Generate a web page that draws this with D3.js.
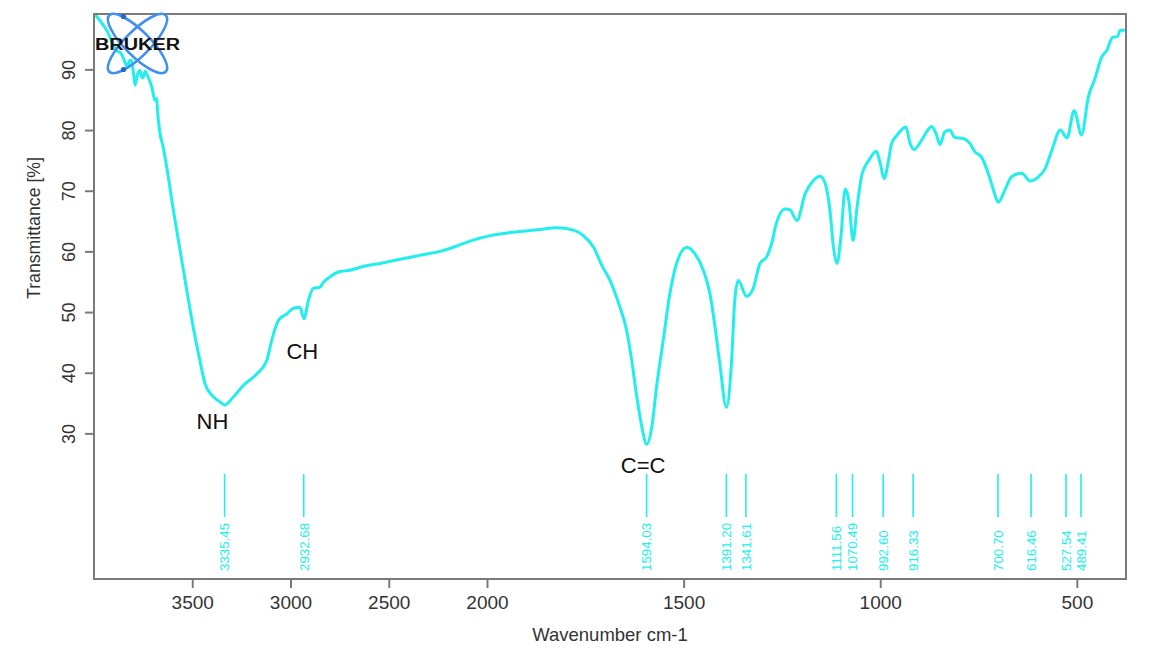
<!DOCTYPE html>
<html><head><meta charset="utf-8">
<script src="https://cdn.jsdelivr.net/npm/d3@7"></script>
<style>
html,body{margin:0;padding:0;background:#fff;}
svg{display:block;font-family:"Liberation Sans",Arial,sans-serif;}
</style></head>
<body><svg id="chart" width="1149" height="653"></svg>
<script>
// ---- data ----
const wavenumbers = [3995,3935,3884,3862,3852,3840,3830,3820,3810,3800,3791,3780,3766,3755,3748,3740,3732,3720,3706,3690,3682,3675,3664,3650,3630,3596,3562,3528,3495,3461,3435,3401,3367,3335,3291,3240,3172,3121,3096,3062,3019,2986,2952,2932,2909,2884,2850,2833,2799,2757,2697,2620,2545,2443,2350,2239,2160,2087,1992,1942,1865,1823,1780,1755,1729,1708,1687,1665,1645,1632,1619,1606,1594,1581,1569,1552,1535,1518,1492,1471,1450,1433,1420,1408,1391,1378,1370,1361,1340,1323,1306,1289,1272,1267,1242,1229,1212,1191,1170,1153,1140,1127,1119,1110,1100,1089,1080,1069,1059,1046,1029,1010,1000,990,979,971,958,935,924,914,895,882,869,858,848,836,823,811,789,772,759,742,725,712,700,683,666,640,619,598,581,564,542,525,507,488,471,454,437,424,409,397,390,375];
const transmittance = [99.1,96.4,93.1,92.6,92.0,91.0,90.4,91.4,91.5,89.6,87.4,89.0,89.8,88.6,88.8,89.7,89.3,88.4,87.1,84.9,85.2,82.5,79.4,77.5,73.9,66.8,60.2,53.6,47.5,42.0,38.2,36.3,35.4,34.7,36.0,37.9,39.8,42.0,45.3,48.6,49.7,50.6,50.8,48.9,51.9,53.9,54.1,54.9,55.8,56.6,56.9,57.6,58.0,58.7,59.3,60.0,60.8,61.7,62.6,63.1,63.6,63.9,63.5,62.6,60.7,57.7,55.2,51.4,47.0,42.0,36.0,31.0,28.2,31.0,37.6,45.3,53.0,58.0,60.7,59.6,56.9,53.0,47.5,41.5,34.3,42.0,51.9,55.2,52.6,53.9,58.0,59.1,62.4,64.0,67.0,66.8,65.1,69.5,71.7,72.4,71.2,66.2,60.7,58.0,62.4,70.3,68.4,61.8,67.3,72.8,75.0,76.5,74.5,72.0,75.0,77.8,79.1,80.5,77.8,76.8,78.3,79.7,80.6,79.4,77.6,79.7,80.0,78.8,78.6,77.8,76.4,75.5,72.8,70.1,68.1,70.1,72.3,72.9,71.6,72.3,73.6,76.6,80.0,78.7,83.2,79.2,85.4,88.5,92.0,93.1,95.3,95.4,96.4,96.5];
const peakPositions = [3335.45,2932.68,1594.03,1391.20,1341.61,1111.56,1070.49,992.60,916.33,700.70,616.46,527.54,489.41];
const peakLabels = ["3335.45","2932.68","1594.03","1391.20","1341.61","1111.56","1070.49","992.60","916.33","700.70","616.46","527.54","489.41"];
const xTicks = [3500,3000,2500,2000,1500,1000,500];
const yTicks = [30,40,50,60,70,80,90];
const bandNames = ["NH","CH","C=C"];
const bandWavenumbers = [3397,2940,1603];
const bandT = [30.8,42.3,23.5];

// ---- layout ----
const L=94, R=1126, T=14, B=579;
const svg = d3.select("#chart");
const x = d3.scaleLinear().domain([4000,2000,375]).range([L,487,R]);
const y = d3.scaleLinear().domain([6,99.13]).range([B,T]);
const grey="#7a7a7a", txt="#333", cyan="#22eeee";

// curve
const pts = wavenumbers.map((w,i)=>[w,transmittance[i]]);
svg.append("path").datum(pts)
  .attr("fill","none").attr("stroke",cyan).attr("stroke-width",3)
  .attr("stroke-linejoin","round")
  .attr("d",d3.line().x(d=>x(d[0])).y(d=>y(d[1])).curve(d3.curveMonotoneX));

// frame
svg.append("rect").attr("x",L).attr("y",T).attr("width",R-L).attr("height",B-T)
  .attr("fill","none").attr("stroke",grey).attr("stroke-width",2);

// x axis
const xAxis = svg.append("g").attr("transform",`translate(0,${B})`)
  .call(d3.axisBottom(x).tickValues(xTicks).tickSize(9).tickPadding(8).tickFormat(d3.format("d")));
xAxis.select(".domain").remove();
xAxis.selectAll("line").attr("stroke",grey).attr("stroke-width",2);
xAxis.selectAll("text").attr("fill",txt).style("font-size","19px");

// y axis
const yAxis = svg.append("g").attr("transform",`translate(${L},0)`)
  .call(d3.axisLeft(y).tickValues(yTicks).tickSize(9).tickFormat(d3.format("d")));
yAxis.select(".domain").remove();
yAxis.selectAll("line").attr("stroke",grey).attr("stroke-width",2);
yAxis.selectAll("text").attr("fill",txt).style("font-size","18px")
  .attr("text-anchor","middle").attr("x",0).attr("dy",null)
  .attr("transform","translate(-25,0) rotate(-90)").attr("dy","0.36em");

// axis titles
svg.append("text").attr("x",(L+R)/2).attr("y",641).attr("text-anchor","middle")
  .attr("fill",txt).style("font-size","18.5px").text("Wavenumber cm-1");
svg.append("text").attr("transform","translate(40,228) rotate(-90)").attr("text-anchor","middle")
  .attr("fill",txt).style("font-size","17.7px").text("Transmittance [%]");

// peak markers
const pk = svg.append("g");
peakPositions.forEach((w,i)=>{
  const px = x(w);
  pk.append("line").attr("x1",px).attr("x2",px).attr("y1",474).attr("y2",517)
    .attr("stroke",cyan).attr("stroke-width",1.6);
  pk.append("text").attr("transform",`translate(${px+4.8},571) rotate(-90)`)
    .attr("fill",cyan).style("font-size","13.3px").text(peakLabels[i]);
});

// band annotations
bandNames.forEach((n,i)=>{
  svg.append("text").attr("x",x(bandWavenumbers[i])).attr("y",y(bandT[i]))
    .attr("text-anchor","middle").attr("fill","#111").style("font-size","22px").text(n);
});

// Bruker logo
const logo = svg.append("g").attr("transform","translate(137.5,43.5)");
[45,-45].forEach(a=>{
  logo.append("ellipse").attr("rx",40).attr("ry",12.5).attr("transform",`rotate(${a})`)
    .attr("fill","none").attr("stroke","#3f8ff2").attr("stroke-width",2.6);
});
logo.append("circle").attr("cx",-14).attr("cy",-27).attr("r",2.6).attr("fill","#2266cc");
logo.append("circle").attr("cx",-14).attr("cy",26).attr("r",2.6).attr("fill","#2266cc");
svg.append("text").attr("x",95).attr("y",50).attr("textLength",85).attr("lengthAdjust","spacingAndGlyphs")
  .attr("fill","#111").style("font-size","16px").style("font-weight","900").text("BRUKER");
</script></body></html>
